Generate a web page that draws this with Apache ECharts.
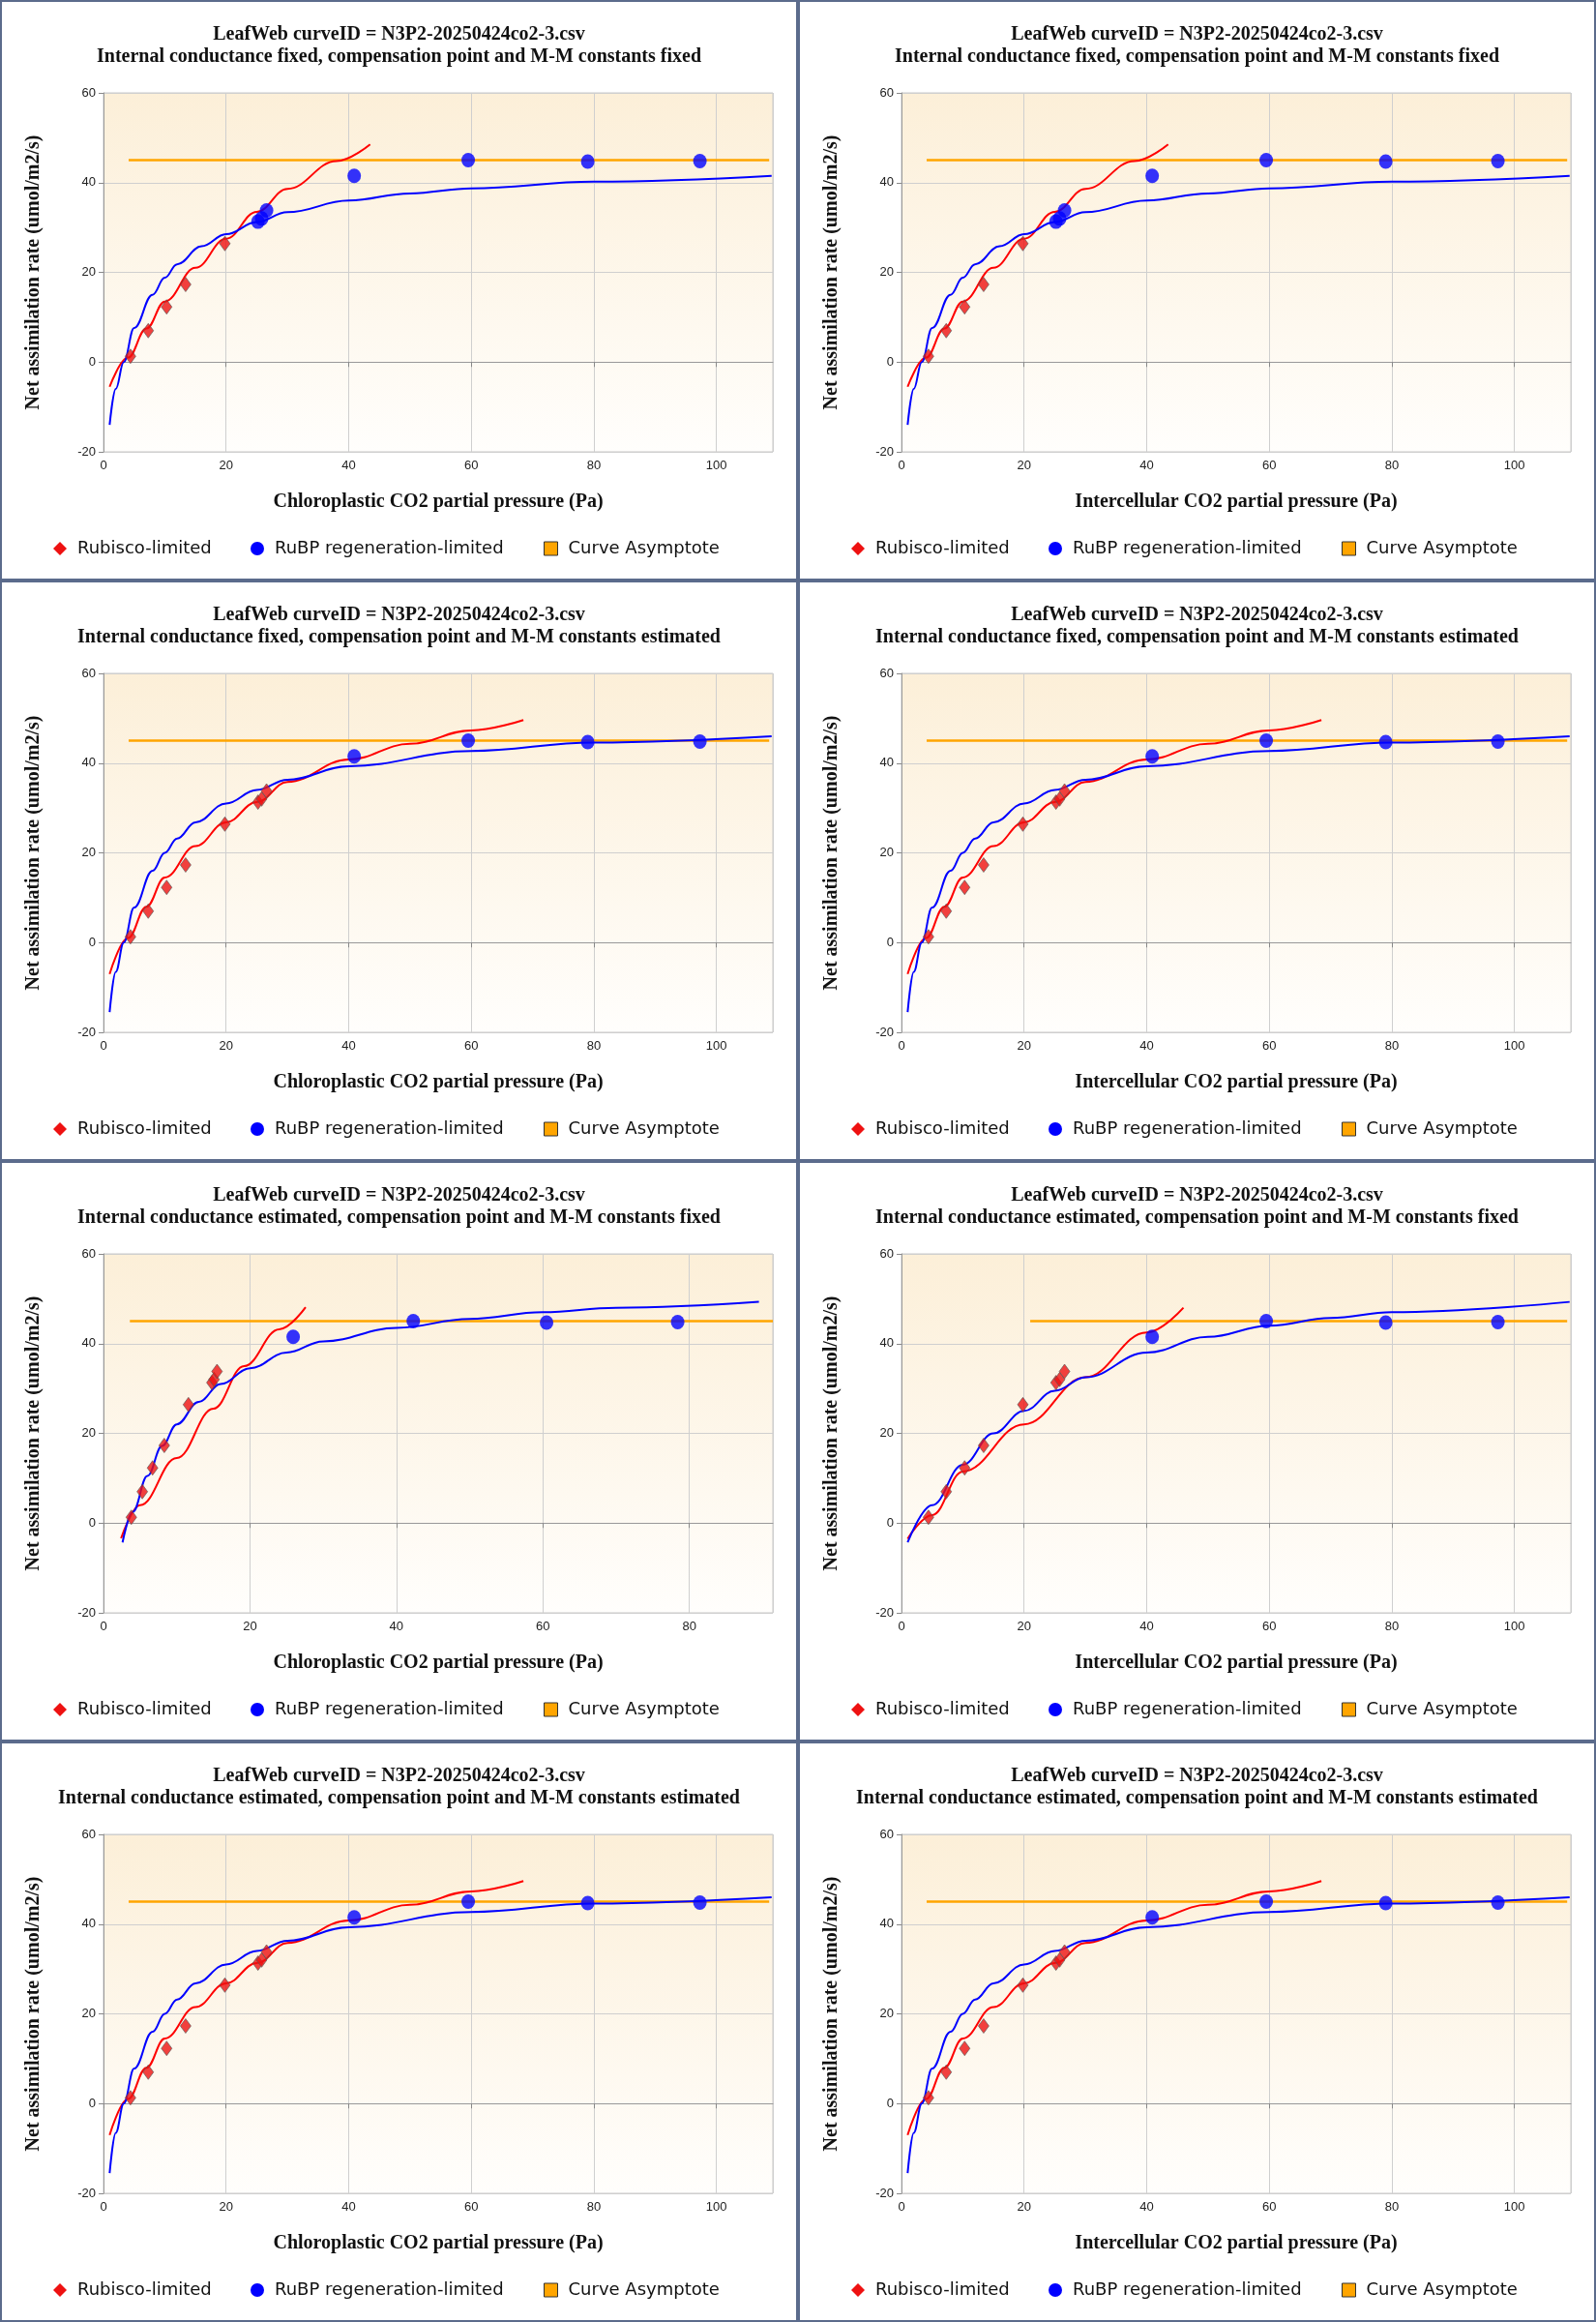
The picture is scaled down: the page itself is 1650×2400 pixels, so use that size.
<!DOCTYPE html>
<html>
<head>
<meta charset="utf-8">
<script src="https://cdn.jsdelivr.net/npm/echarts@6/dist/echarts.min.js"></script>
<style>
  html, body { margin: 0; padding: 0; background: #fff; }
  #wrap { width: 1650px; height: 2400px; display: grid; grid-template-columns: 825px 825px; grid-template-rows: repeat(4, 600px); }
  .panel { box-sizing: border-box; border: 2px solid #5b6b8c; width: 825px; height: 600px; }
</style>
</head>
<body>
<div id="wrap"></div>
<script>
// measured points (Pa, umol/m2/s)
const ciX = [4.4, 7.3, 10.3, 13.4, 19.8, 25.2, 25.8, 26.6, 40.9, 59.5, 79.0, 97.3];
const ccEstX = [3.8, 5.3, 6.7, 8.3, 11.6, 14.8, 15.1, 15.5, 25.9, 42.3, 60.5, 78.4];
const netA = [1.3, 7.0, 12.3, 17.3, 26.4, 31.3, 32.0, 33.8, 41.5, 45.0, 44.7, 44.8];
const asymptote = 45;

// fitted curves
const redFixed = [[1, -5.5], [4, 1], [7, 7.5], [10, 13.5], [15, 21], [20, 27.5], [25, 33.5], [30, 38.6], [38, 44.8], [43.5, 48.5]];
const blueFixed = [[1, -14], [2, -6], [3.3, 0], [5, 7.6], [8, 15], [10, 18.8], [12, 21.8], [16, 25.8], [20, 28.5], [25, 31.2], [30, 33.4], [40, 36], [50, 37.6], [60, 38.7], [80, 40.2], [109, 41.5]];
const redEst = [[1, -7], [4, 1], [7, 8], [10, 14.5], [15, 21.5], [20, 26.8], [25, 31.3], [30, 35.8], [40, 40.8], [50, 44.3], [60, 47.3], [68.5, 49.6]];
const blueEst = [[1, -15.5], [2, -6.5], [3.3, 0], [5, 7.8], [8, 16], [10, 20], [12, 23.2], [15, 26.8], [20, 31], [25, 34], [30, 36.3], [40, 39.3], [60, 42.7], [80, 44.6], [109, 46]];
const redGmCc = [[2.4, -3.4], [5, 4], [10, 14.5], [15, 25.5], [19.2, 35], [24, 43.2], [27.6, 48.1]];
const blueGmCc = [[2.6, -4.3], [4, 2.5], [6, 10.5], [8, 17.2], [10, 22], [13, 27], [16, 31], [20, 34.5], [25, 38], [30, 40.5], [40, 43.5], [50, 45.5], [60, 47], [70, 48], [89.5, 49.3]];
const redGmCi = [[1, -3.5], [5, 1.8], [10, 11.5], [20, 22], [30, 32.5], [40, 42.5], [46, 48]];
const blueGmCi = [[1, -4.3], [5, 4], [10, 13], [15, 20], [20, 25], [25, 29.5], [30, 32.5], [40, 38], [50, 41.5], [60, 44], [70, 45.7], [80, 47], [109, 49.3]];

const titleTop = "LeafWeb curveID = N3P2-20250424co2-3.csv";
const subtitles = [
  "Internal conductance fixed, compensation point and M-M constants fixed",
  "Internal conductance fixed, compensation point and M-M constants fixed",
  "Internal conductance fixed, compensation point and M-M constants estimated",
  "Internal conductance fixed, compensation point and M-M constants estimated",
  "Internal conductance estimated, compensation point and M-M constants fixed",
  "Internal conductance estimated, compensation point and M-M constants fixed",
  "Internal conductance estimated, compensation point and M-M constants estimated",
  "Internal conductance estimated, compensation point and M-M constants estimated"
];
const xLabels = ["Chloroplastic CO2 partial pressure (Pa)", "Intercellular CO2 partial pressure (Pa)"];
const yTicks = [-20, 0, 20, 40, 60];

// per panel: x values, number of rubisco points, curves, asymptote range, x max
const panels = [
  { x: ciX, nRub: 5, red: redFixed, blue: blueFixed, asym: [4.1, 108.6], xMax: 109.2 },
  { x: ciX, nRub: 5, red: redFixed, blue: blueFixed, asym: [4.1, 108.6], xMax: 109.2 },
  { x: ciX, nRub: 8, red: redEst, blue: blueEst, asym: [4.1, 108.6], xMax: 109.2 },
  { x: ciX, nRub: 8, red: redEst, blue: blueEst, asym: [4.1, 108.6], xMax: 109.2 },
  { x: ccEstX, nRub: 8, red: redGmCc, blue: blueGmCc, asym: [3.6, 91.4], xMax: 91.4 },
  { x: ciX, nRub: 8, red: redGmCi, blue: blueGmCi, asym: [21, 108.6], xMax: 109.2 },
  { x: ciX, nRub: 8, red: redEst, blue: blueEst, asym: [4.1, 108.6], xMax: 109.2 },
  { x: ciX, nRub: 8, red: redEst, blue: blueEst, asym: [4.1, 108.6], xMax: 109.2 }
];

const SERIF = "'Liberation Serif', 'DejaVu Serif', serif";
const NARROW = "'Liberation Sans Narrow', 'Liberation Sans', sans-serif";
const LEG = "'DejaVu Sans', Verdana, sans-serif";

function build(p, i) {
  const pts = p.x.map((x, k) => [x, netA[k]]);
  const rub = pts.slice(0, p.nRub);
  const rbp = pts.slice(p.nRub);
  const axisText = { color: "#222", fontFamily: NARROW, fontSize: 13 };
  const legItem = (name, icon, style, left) => ({
    show: true, top: 551, left: left, itemWidth: 14, itemHeight: 14, selectedMode: false,
    textStyle: { fontFamily: LEG, fontSize: 18, color: "#111", padding: [0, 0, 0, 6] },
    data: [{ name: name, icon: icon, itemStyle: style }]
  });
  return {
    animation: false,
    backgroundColor: "#fff",
    title: {
      text: titleTop + "\n" + subtitles[i],
      left: "center", top: 17,
      textStyle: { fontFamily: SERIF, fontWeight: "bold", fontSize: 20, lineHeight: 23, color: "#111" }
    },
    grid: {
      left: 105, right: 24, top: 94, height: 371, show: true, borderColor: "#c8c8c8", borderWidth: 1,
      backgroundColor: { type: "linear", x: 0, y: 0, x2: 0, y2: 1, colorStops: [{ offset: 0, color: "#fcefd8" }, { offset: 1, color: "#fffefc" }] }
    },
    xAxis: {
      type: "value", min: 0, max: p.xMax, interval: 20,
      name: xLabels[i % 2], nameLocation: "middle", nameGap: 42,
      nameTextStyle: { fontFamily: SERIF, fontWeight: "bold", fontSize: 20, color: "#111" },
      axisLine: { lineStyle: { color: "#999" } },
      axisTick: { show: true, length: 5, lineStyle: { color: "#888" } },
      axisLabel: Object.assign({ margin: 8, showMaxLabel: false }, axisText),
      splitLine: { lineStyle: { color: "#cfcfcf" } }
    },
    yAxis: {
      type: "value", min: yTicks[0], max: yTicks[yTicks.length - 1], interval: 20,
      name: "Net assimilation rate (umol/m2/s)", nameLocation: "middle", nameGap: 62,
      nameTextStyle: { fontFamily: SERIF, fontWeight: "bold", fontSize: 20, color: "#111" },
      axisLine: { show: true, lineStyle: { color: "#999" } },
      axisTick: { show: true, length: 5, lineStyle: { color: "#888" } },
      axisLabel: Object.assign({ margin: 8 }, axisText),
      splitLine: { lineStyle: { color: "#cfcfcf" } }
    },
    legend: [
      legItem("Rubisco-limited", "diamond", { color: "#ee1111", borderWidth: 0 }, 48),
      legItem("RuBP regeneration-limited", "circle", { color: "#0000ff", borderWidth: 0 }, 252),
      legItem("Curve Asymptote", "rect", { color: "#ffa500", borderColor: "#333", borderWidth: 1 }, 555)
    ],
    series: [
      { name: "Curve Asymptote", type: "line", data: [[p.asym[0], asymptote], [p.asym[1], asymptote]], showSymbol: false, lineStyle: { color: "#ffa500", width: 2.5 }, itemStyle: { color: "#ffa500" }, z: 2 },
      { name: "Rubisco-limited", type: "line", data: p.red, smooth: 0.4, smoothMonotone: "x", showSymbol: false, lineStyle: { color: "#ff0000", width: 2 }, itemStyle: { color: "#ff0000" }, z: 3 },
      { name: "RuBP regeneration-limited", type: "line", data: p.blue, smooth: 0.4, smoothMonotone: "x", showSymbol: false, lineStyle: { color: "#0000ff", width: 2 }, itemStyle: { color: "#0000ff" }, z: 3 },
      { name: "Rubisco-limited", type: "scatter", data: rub, symbol: "diamond", symbolSize: [11, 15], itemStyle: { color: "#ee1111", borderColor: "#555", borderWidth: 0.8 }, z: 4 },
      { name: "RuBP regeneration-limited", type: "scatter", data: rbp, symbol: "circle", symbolSize: [14, 15], itemStyle: { color: "#0000ff" }, z: 4 }
    ]
  };
}

const wrap = document.getElementById("wrap");
panels.forEach((p, i) => {
  const el = document.createElement("div");
  el.className = "panel";
  wrap.appendChild(el);
  const chart = echarts.init(el, null, { renderer: "canvas" });
  chart.setOption(build(p, i));
});
</script>
</body>
</html>
